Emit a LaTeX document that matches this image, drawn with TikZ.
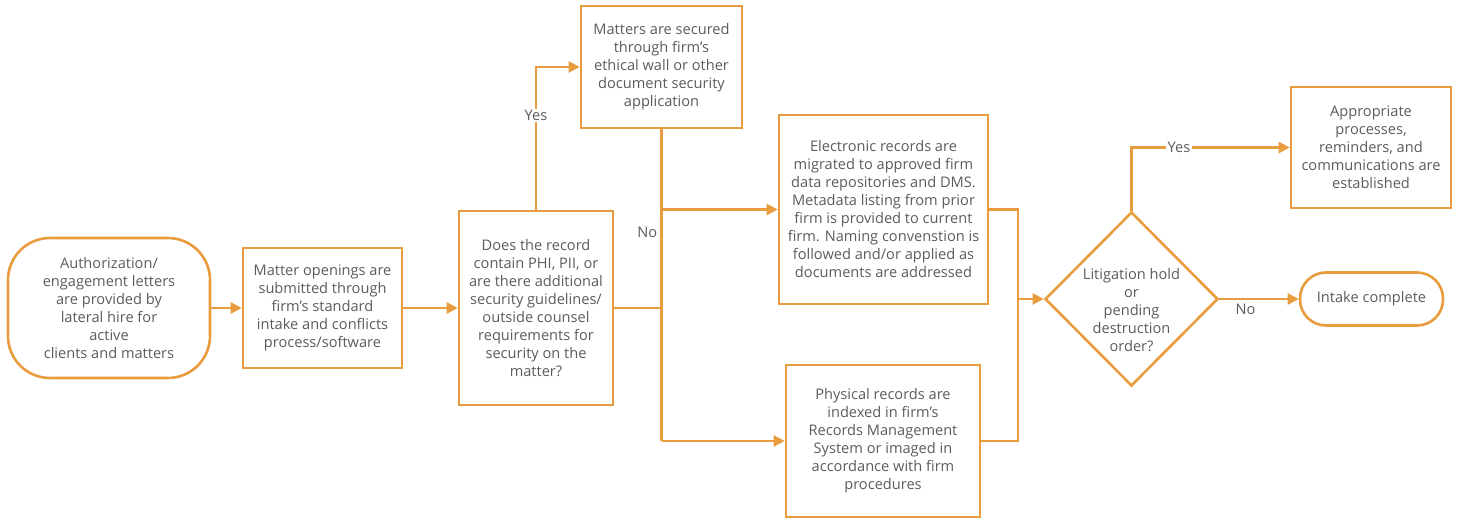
\documentclass[tikz,border=0pt]{standalone}
\usepackage{fontspec}
\setmainfont{Open Sans}
\usetikzlibrary{arrows.meta,shapes.geometric}
\definecolor{flowline}{RGB}{232,156,62}
\definecolor{flowtext}{RGB}{92,92,92}
\begin{document}
\begin{tikzpicture}[x=1pt,y=-1pt,
        every node/.style={text=flowtext,font=\fontsize{14.6}{18}\selectfont},
        stepbox/.style={draw=flowline,line width=2.6pt,align=center,inner sep=0pt},
        termbox/.style={stepbox,rounded corners=#1},
        decision/.style={diamond,draw=flowline,line width=2.6pt,inner sep=0pt},
        arr/.style={draw=flowline,line width=2.4pt,-{Triangle[length=11pt,width=11pt]}},
        conn/.style={draw=flowline,line width=2.4pt},
        tag/.style={fill=white,inner sep=1.5pt}]
    \useasboundingbox[fill=white] (0,0) rectangle (1460,518);

    \node[termbox=42pt,minimum width=202pt,minimum height=140pt] (start) at (109,308)
        {Authorization/\\engagement letters\\are provided by\\lateral hire for\\active\\clients and matters};
    \node[stepbox,minimum width=159pt,minimum height=120pt] (matter) at (322.5,308)
        {Matter openings are\\submitted through\\firm’s standard\\intake and conflicts\\process/software};
    \node[stepbox,minimum width=154pt,minimum height=194pt] (query) at (536,308)
        {Does the record\\contain PHI, PII, or\\are there additional\\security guidelines/\\outside counsel\\requirements for\\security on the\\matter?};
    \node[stepbox,minimum width=161pt,minimum height=122pt] (secure) at (661.5,67)
        {Matters are secured\\through firm’s\\ethical wall or other\\document security\\application};
    \node[stepbox,minimum width=209pt,minimum height=189pt] (elec) at (883.5,209.5)
        {Electronic records are\\migrated to approved firm\\data repositories and DMS.\\Metadata listing from prior\\firm is provided to current\\firm. Naming convenstion is\\followed and/or applied as\\documents are addressed};
    \node[stepbox,minimum width=194pt,minimum height=152pt] (phys) at (883,441)
        {Physical records are\\indexed in firm's\\Records Management\\System or imaged in\\accordance with firm\\procedures};
    \node[decision,minimum width=173pt,minimum height=174pt,
        label={[align=center,yshift=-11pt]center:Litigation hold\\or\\pending\\destruction\\order?}] (lit) at (1131.5,299) {};
    \node[stepbox,minimum width=160pt,minimum height=121pt] (appr) at (1371,147.5)
        {Appropriate\\processes,\\reminders, and\\communications are\\established};
    \node[termbox=26pt,minimum width=143pt,minimum height=53pt] (intake) at (1371.5,299)
        {Intake complete};

    % junctions
    \coordinate (jq) at (secure.south |- query.east);
    \coordinate (je) at (secure.south |- elec.west);
    \coordinate (jp) at (secure.south |- phys.west);
    \coordinate (re) at (1018,209.5);
    \coordinate (rp) at (re |- phys.east);
    \coordinate (rl) at (re |- lit.west);

    \foreach \from / \to in {start/matter,matter/query}
        \path[arr] (\from.east) -- (\to.west);
    \path[arr] (query.north) |- (secure.west) node[tag,pos=0.33] {Yes};
    \path[conn] (secure.south) -- (jp) node[pos=0.33,left,inner sep=3pt] {No};
    \path[conn] (query.east) -- (jq);
    \path[arr] (je) -- (elec.west);
    \path[arr] (jp) -- (phys.west);
    \path[conn] (elec.east) -- (re) -- (rp) -- (phys.east);
    \path[arr] (rl) -- (lit.west);
    \path[arr] (lit.north) |- (appr.west) node[tag,pos=0.65] {Yes};
    \path[arr] (lit.east) -- (intake.west) node[pos=0.33,below,inner sep=4pt] {No};
\end{tikzpicture}
\end{document}
